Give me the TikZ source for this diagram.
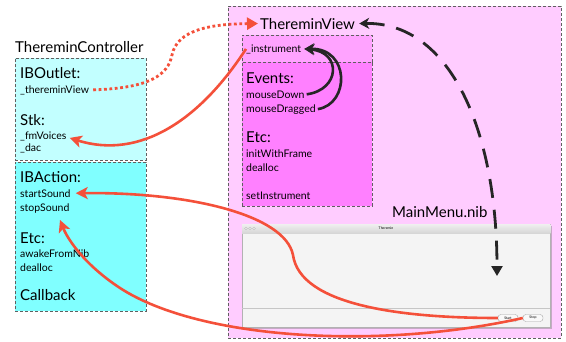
\documentclass[tikz,border=0pt]{standalone}
\usepackage{fontspec}
\setmainfont{Lato}
\usetikzlibrary{arrows.meta,positioning,shadows}
\definecolor{ctlpale}{HTML}{C2FFFF}
\definecolor{ctlcyan}{HTML}{80FFFF}
\definecolor{viewbg}{HTML}{FFCCFF}
\definecolor{viewpale}{HTML}{FFA3FF}
\definecolor{viewmag}{HTML}{FF80FF}
\definecolor{wire}{HTML}{F4503A}
\definecolor{ink}{HTML}{262626}
\definecolor{frame}{HTML}{606060}

\begin{document}
\begin{tikzpicture}[x=1pt, y=-1pt,
    panel/.style={draw=frame, densely dashed, line width=0.4pt, anchor=north west, inner sep=0pt},
    head/.style={font=\fontsize{15}{15}\selectfont, anchor=base west, inner sep=0pt},
    item/.style={font=\fontsize{10.5}{11}\selectfont, anchor=base west, inner sep=0pt},
    btn/.style={draw=gray!70, fill=gray!5, rounded corners=3pt, minimum width=20pt,
                minimum height=7pt, inner sep=0pt, font=\fontsize{3.5}{4}\selectfont},
    wirearr/.style={draw=wire, line width=2.6pt, -{Stealth[length=12pt,width=12pt,inset=3pt]}},
    wiredot/.style={draw=wire, line width=2.8pt, dash pattern=on 2.8pt off 2.6pt,
                    -{Triangle[length=11pt,width=12pt]}},
    inkarr/.style={draw=ink, line width=2.6pt, -{Stealth[length=10pt,width=11pt,inset=3pt]}}
]
\useasboundingbox (0,0) rectangle (566,341);

% controller side
\node[head] (ctrl) at (15,52) {ThereminController};
\node[panel, fill=ctlpale, minimum width=131pt, minimum height=102pt] (outlets) at (15,58) {};
\node[panel, fill=ctlcyan, minimum width=131pt, minimum height=149pt] (actions) at (15,162) {};
\node[head] (ibo) at (20,78) {IBOutlet:};
\node[item] (tvout) at (20,93) {\_thereminView};
\node[head] (stk) at (20,125) {Stk:};
\node[item] (fmv) at (20,139) {\_fmVoices};
\node[item] (dac) at (20,151) {\_dac};
\node[head] (iba) at (20,182) {IBAction:};
\node[item] (startsnd) at (20,197) {startSound};
\node[item] (stopsnd) at (20,211) {stopSound};
\node[head] (cetc) at (20,243) {Etc:};
\node[item] (awake) at (20,257) {awakeFromNib};
\node[item] (cdealloc) at (20,271) {dealloc};
\node[head] (cb) at (20,300) {Callback};

% nib side
\node[panel, fill=viewbg, minimum width=333pt, minimum height=332pt] (nib) at (228,6) {};
\node[head] (tview) at (260,29) {ThereminView};
\node[panel, fill=viewpale, minimum width=130pt, minimum height=27pt] (ivars) at (242,35) {};
\node[panel, fill=viewmag, minimum width=130pt, minimum height=144pt] (methods) at (242,62) {};
\node[item] (instr) at (246,52) {\_instrument};
\node[head] (events) at (246,83) {Events:};
\node[item] (mdown) at (246,98) {mouseDown};
\node[item] (mdrag) at (246,112) {mouseDragged};
\node[head] (vetc) at (246,142) {Etc:};
\node[item] (initwf) at (246,157) {initWithFrame};
\node[item] (vdealloc) at (246,171) {dealloc};
\node[item] (setinstr) at (246,199) {setInstrument};
\node[head] (nibname) at (392,217) {MainMenu.nib};

% window screenshot
\node[draw=gray!60, fill=gray!9, anchor=north west, minimum width=308pt, minimum height=103pt,
      inner sep=0pt, drop shadow={shadow xshift=1.5pt, shadow yshift=-2pt, opacity=0.45}] (win) at (242,224) {};
\shade[top color=gray!12, bottom color=gray!32] (win.north west) rectangle ([yshift=-9pt]win.north east);
\foreach \i in {0,1,2} { \draw[gray!60, fill=gray!20, line width=0.3pt] (246+\i*4,228.5) circle (1.5pt); }
\node[font=\fontsize{3.5}{4}\selectfont, inner sep=0pt] (wintitle) at (386,228.5) {Theremin};
\draw[gray!45, line width=0.5pt] ([yshift=19pt]win.south west) -- ([yshift=19pt]win.south east);
\node[btn] (start) at (508,318) {Start};
\node[btn] (stop) at (533,318) {Stop};
\coordinate (drop) at (497,276);
\coordinate (stoptip) at (60,220);

% connections
\draw[wiredot] ([xshift=4pt]tvout.east) .. controls (150,88) and (168,75) .. (172,55)
    .. controls (177,30) and (210,24) .. ([xshift=-2pt]tview.west);
\draw[wirearr] (instr.west) .. controls (200,120) and (140,160) .. ([xshift=3pt,yshift=-2pt]fmv.east);
\draw[inkarr] ([xshift=2pt]mdown.east) .. controls (340,90) and (342,52) .. ([xshift=3pt]instr.east);
\draw[inkarr] ([xshift=2pt]mdrag.east) .. controls (350,104) and (350,48) .. ([xshift=3pt]instr.east);
\draw[draw=ink, line width=2.8pt, dash pattern=on 19pt off 12pt,
      {Stealth[length=10pt,width=11pt,inset=3pt]}-{Triangle[length=10pt,width=11pt]}]
    ([xshift=4pt]tview.east) .. controls (450,22) and (497,130) .. (drop);
\draw[wirearr] (start.west) .. controls (400,318) and (300,305) .. (293,255)
    .. controls (285,215) and (190,192) .. ([xshift=5pt]startsnd.east);
\draw[wirearr] (stop.west) .. controls (380,350) and (200,340) .. (120,288)
    .. controls (85,265) and (68,240) .. (stoptip);
\end{tikzpicture}
\end{document}
